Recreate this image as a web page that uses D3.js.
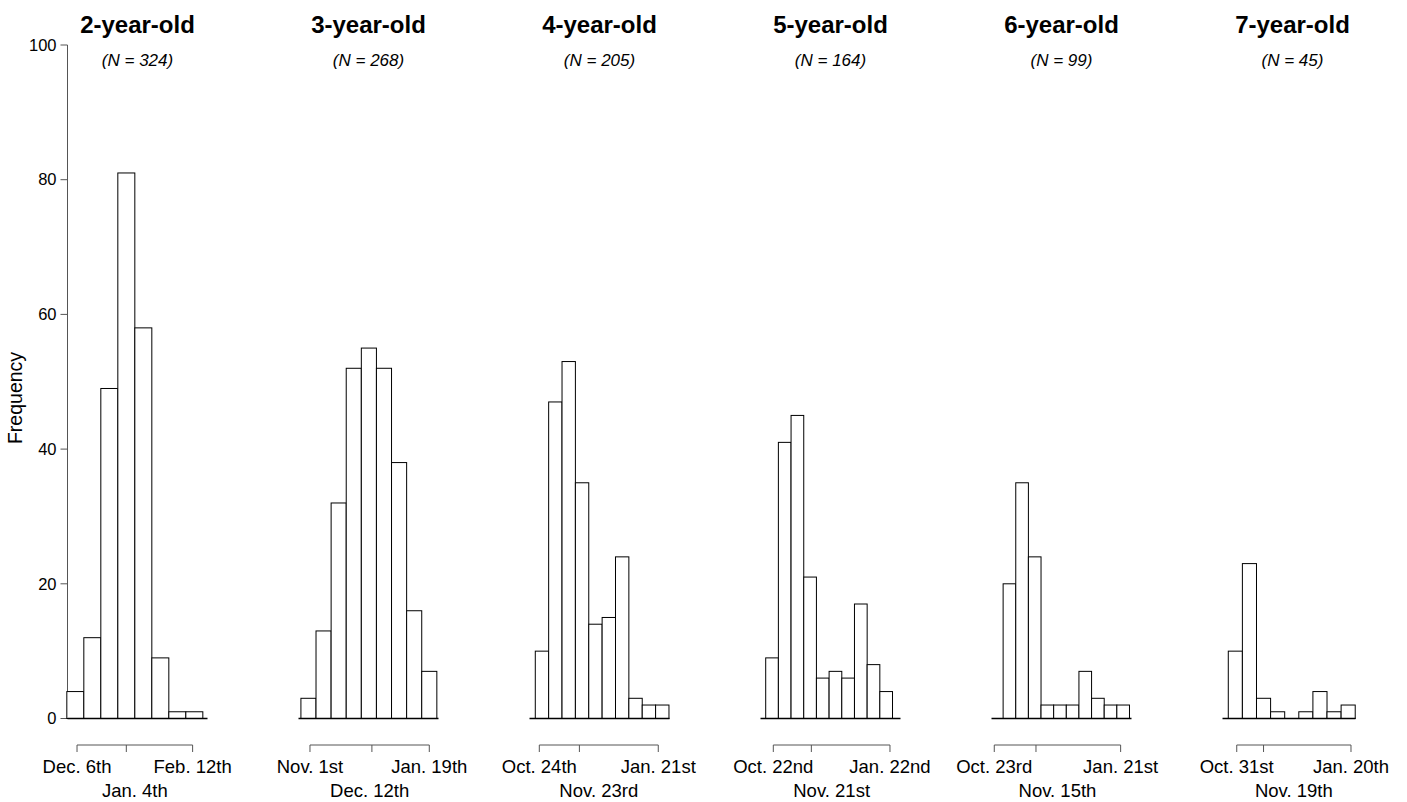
<!DOCTYPE html>
<html>
<head>
<meta charset="utf-8">
<script src="https://cdn.jsdelivr.net/npm/d3@7"></script>
<style>
  html, body { margin: 0; padding: 0; background: #fff; }
  svg { display: block; font-family: "Liberation Sans", Arial, Helvetica, sans-serif; }
</style>
</head>
<body>
<svg id="chart" width="1407" height="802"></svg>
<script>
// ---- data (days counted from Oct. 1st = 0) ----
const titles = ["2-year-old", "3-year-old", "4-year-old", "5-year-old", "6-year-old", "7-year-old"];
const sampleN = [324, 268, 205, 164, 99, 45];
const binWidthDays = 10;
const firstBinDay = [60, 25, 20, 15, 19, 24];
const counts2 = [4, 12, 49, 81, 58, 9, 1, 1];
const counts3 = [3, 13, 32, 52, 55, 52, 38, 16, 7];
const counts4 = [10, 47, 53, 35, 14, 15, 24, 3, 2, 2];
const counts5 = [9, 41, 45, 21, 6, 7, 6, 17, 8, 4];
const counts6 = [20, 35, 24, 2, 2, 2, 7, 3, 2, 2];
const counts7 = [10, 23, 3, 1, 0, 1, 4, 1, 2];
const allCounts = [counts2, counts3, counts4, counts5, counts6, counts7];
const xDomains = [[60.4, 142.75], [23.4, 116.1], [15.67, 120.4], [10.9, 121.3], [9.8, 120.6], [19.9, 114.2]];
const tickDays = [[66, 95, 134], [31, 72, 110], [23, 53, 112], [21, 51, 113], [12, 45, 112], [30, 49, 111]];
const tickLabels = [
  ["Dec. 6th", "Jan. 4th", "Feb. 12th"],
  ["Nov. 1st", "Dec. 12th", "Jan. 19th"],
  ["Oct. 24th", "Nov. 23rd", "Jan. 21st"],
  ["Oct. 22nd", "Nov. 21st", "Jan. 22nd"],
  ["Oct. 23rd", "Nov. 15th", "Jan. 21st"],
  ["Oct. 31st", "Nov. 19th", "Jan. 20th"]
];
const yTicks = [0, 20, 40, 60, 80, 100];
const yLabel = "Frequency";

// ---- layout ----
const panelLeft0 = 67.5, panelStep = 231;
const panelWidths = [140, 140, 140, 140, 140, 133];
const yZero = 718.5, yTop = 45;
const dateAxisY = 745;

const svg = d3.select("#chart");
const y = d3.scaleLinear().domain([0, 100]).range([yZero, yTop]);

// y axis (first panel only)
const yAxis = svg.append("g").attr("transform", `translate(${panelLeft0},0)`);
yAxis.append("line").attr("x1", 0).attr("x2", 0).attr("y1", y(0)).attr("y2", y(100))
  .attr("stroke", "#555").attr("stroke-width", 1);
yTicks.forEach(t => {
  yAxis.append("line").attr("x1", -7).attr("x2", 0).attr("y1", y(t)).attr("y2", y(t))
    .attr("stroke", "#555").attr("stroke-width", 1);
  yAxis.append("text").attr("x", -11).attr("y", y(t)).attr("dy", "0.35em")
    .attr("text-anchor", "end").attr("font-size", 16.5).attr("fill", "#000").text(t);
});
svg.append("text").attr("transform", `translate(22,398) rotate(-90)`)
  .attr("text-anchor", "middle").attr("font-size", 19.5).attr("fill", "#000").text(yLabel);

titles.forEach((title, i) => {
  const x0 = panelLeft0 + panelStep * i;
  const w = panelWidths[i];
  const x = d3.scaleLinear().domain(xDomains[i]).range([x0, x0 + w]);
  const g = svg.append("g");
  const counts = allCounts[i];

  // title & N
  const cx = x0 + 70;
  g.append("text").attr("x", cx).attr("y", 33).attr("text-anchor", "middle")
    .attr("font-size", 24).attr("font-weight", "bold").attr("fill", "#000").text(title);
  g.append("text").attr("x", cx).attr("y", 66).attr("text-anchor", "middle")
    .attr("font-size", 17).attr("font-style", "italic").attr("fill", "#000")
    .text(`(N = ${sampleN[i]})`);

  // bars
  const bins = counts.map((c, k) => ({
    start: firstBinDay[i] + k * binWidthDays,
    end: firstBinDay[i] + (k + 1) * binWidthDays,
    count: c
  }));
  g.selectAll("rect.bar").data(bins).join("rect")
    .attr("class", "bar")
    .attr("x", d => x(d.start))
    .attr("width", d => x(d.end) - x(d.start))
    .attr("y", d => y(d.count))
    .attr("height", d => y(0) - y(d.count))
    .attr("fill", "#fff").attr("stroke", "#000").attr("stroke-width", 1);

  // baseline
  g.append("line").attr("x1", x(xDomains[i][0])).attr("x2", x(xDomains[i][1]))
    .attr("y1", y(0)).attr("y2", y(0)).attr("stroke", "#000").attr("stroke-width", 1.5);

  // date axis
  const td = tickDays[i];
  g.append("line").attr("x1", x(td[0])).attr("x2", x(td[td.length - 1]))
    .attr("y1", dateAxisY).attr("y2", dateAxisY).attr("stroke", "#555").attr("stroke-width", 1);
  td.forEach(d => {
    g.append("line").attr("x1", x(d)).attr("x2", x(d))
      .attr("y1", dateAxisY).attr("y2", dateAxisY + 7).attr("stroke", "#555").attr("stroke-width", 1);
  });
  const lbl = tickLabels[i];
  g.append("text").attr("x", x(td[0])).attr("y", 773).attr("text-anchor", "middle")
    .attr("font-size", 18.5).attr("fill", "#000").text(lbl[0]);
  g.append("text").attr("x", x(td[2])).attr("y", 773).attr("text-anchor", "middle")
    .attr("font-size", 18.5).attr("fill", "#000").text(lbl[2]);
  g.append("text").attr("x", (x(td[0]) + x(td[2])) / 2).attr("y", 797).attr("text-anchor", "middle")
    .attr("font-size", 18.5).attr("fill", "#000").text(lbl[1]);
});
</script>
</body>
</html>
